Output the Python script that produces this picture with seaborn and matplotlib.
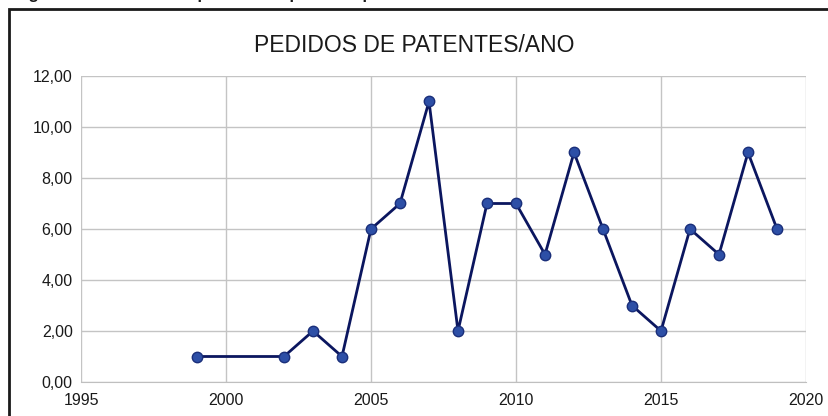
import matplotlib
matplotlib.use('Agg')
import matplotlib.pyplot as plt
import matplotlib.patches as patches
import seaborn as sns
import pandas as pd

anos = [1999, 2002, 2003, 2004, 2005, 2006, 2007, 2008, 2009, 2010,
        2011, 2012, 2013, 2014, 2015, 2016, 2017, 2018, 2019]
pedidos = [1, 1, 2, 1, 6, 7, 11, 2, 7, 7, 5, 9, 6, 3, 2, 6, 5, 9, 6]
x_ticks = [1995, 2000, 2005, 2010, 2015, 2020]
y_ticks = [0, 2, 4, 6, 8, 10, 12]
titulo = 'PEDIDOS DE PATENTES/ANO'
legenda = 'Figura 10 – Número de pedidos de patentes por ano na base de dados'

df = pd.DataFrame({'ano': anos, 'pedidos': pedidos})

sns.set_style('white')
plt.rcParams['font.family'] = ['Liberation Sans', 'DejaVu Sans']

fig = plt.figure(figsize=(8.29, 4.16), dpi=100)
ax = fig.add_axes([81/829, 1 - 382/416, (806 - 81)/829, (382 - 76)/416])

sns.lineplot(data=df, x='ano', y='pedidos', ax=ax, color='#0b165f', linewidth=2,
             marker='o', markersize=7.5, markerfacecolor='#2d4fa6',
             markeredgecolor='#1a2f7a', markeredgewidth=1, zorder=3)

ax.set_xlim(1995, 2020)
ax.set_ylim(0, 12)
ax.set_xticks(x_ticks)
ax.set_yticks(y_ticks)
ax.set_yticklabels([f'{v:.2f}'.replace('.', ',') for v in y_ticks])
ax.grid(True, color='#c4c4c4', linewidth=1)
for s in ax.spines.values():
    s.set_visible(False)
ax.spines['bottom'].set_visible(True)
ax.spines['bottom'].set_color('#bfbfbf')
ax.tick_params(axis='x', labelsize=11.5, colors='#1a1a1a', length=0, pad=8)
ax.tick_params(axis='y', labelsize=11.5, colors='#1a1a1a', length=0, pad=6)
ax.set_xlabel('')
ax.set_ylabel('')

fig.text(0.5, 1 - 45/416, titulo, ha='center', va='center', fontsize=16.5, color='#1a1a1a')

# moldura do gráfico (cortada à direita e em baixo)
fig.patches.append(patches.Rectangle((9/829, -0.2), 1.0, 1 - 9/416 + 0.2,
                                     transform=fig.transFigure, fill=False,
                                     edgecolor='#1a1a1a', linewidth=2))
# legenda da figura, quase toda fora da imagem (como no original)
fig.text(14/829, 1 + 1/416, legenda, ha='left', va='baseline', fontsize=12,
         fontweight='bold', color='#1a1a1a')

fig.savefig('out.png', dpi=100)
